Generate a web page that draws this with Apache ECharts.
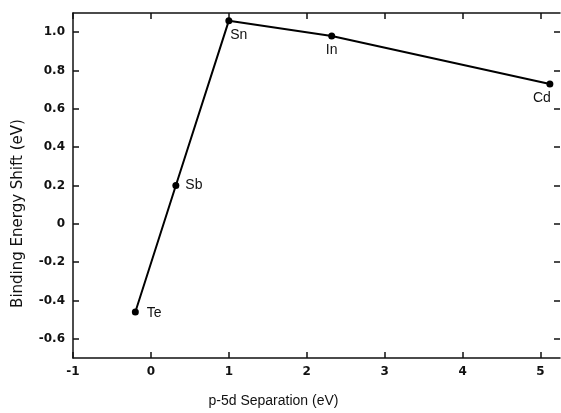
<!DOCTYPE html>
<html>
<head>
<meta charset="utf-8">
<script src="https://cdn.jsdelivr.net/npm/echarts@6/dist/echarts.min.js"></script>
<style>
  html, body { margin: 0; padding: 0; background: #fff; }
  #main { width: 561px; height: 413px; }
</style>
</head>
<body>
<div id="main"></div>
<script>
// data
const elements = ['Te', 'Sb', 'Sn', 'In', 'Cd'];
const separation = [-0.2, 0.32, 1.0, 2.32, 5.12];   // p-5d separation (eV)
const shift = [-0.46, 0.20, 1.06, 0.98, 0.73];      // binding energy shift (eV)
const xTicks = [-1, 0, 1, 2, 3, 4, 5];
const yTicks = [-0.6, -0.4, -0.2, 0, 0.2, 0.4, 0.6, 0.8, 1.0];

const labelPos = { Te: 'right', Sb: 'right', Sn: 'bottom', In: 'bottom', Cd: 'bottom' };
const labelOffset = { Te: [2, 1], Sb: [0, 0], Sn: [10, -2], In: [0, -2], Cd: [-8, -2] };

const font = 'Liberation Sans, Arial, sans-serif';
const tickLabel = { fontFamily: 'DejaVu Sans', fontSize: 12, fontWeight: 'bold', color: '#111' };

const pts = elements.map((e, i) => ({
  value: [separation[i], shift[i]],
  label: { position: labelPos[e], offset: labelOffset[e], formatter: e }
}));

const myChart = echarts.init(document.getElementById('main'));

const axisLine = { show: true, onZero: false, lineStyle: { color: '#111', width: 1.5 } };
const tickStyle = (vals) => ({ show: true, inside: true, length: 6, customValues: vals, lineStyle: { color: '#111', width: 1.5 } });

const option = {
  animation: false,
  backgroundColor: '#fff',
  grid: { left: 73, right: 1, top: 13, bottom: 51 },
  xAxis: [
    {
      type: 'value', min: -1, max: 5.25,
      name: 'p-5d Separation (eV)', nameLocation: 'middle', nameGap: 36,
      nameTextStyle: { fontFamily: font, fontSize: 14, color: '#111', padding: [0, 86, 0, 0] },
      axisLine: axisLine, splitLine: { show: false },
      axisTick: tickStyle(xTicks),
      axisLabel: Object.assign({ customValues: xTicks, margin: 8 }, tickLabel)
    },
    {
      type: 'value', min: -1, max: 5.25, position: 'top',
      axisLine: axisLine, splitLine: { show: false },
      axisTick: tickStyle(xTicks), axisLabel: { show: false }
    }
  ],
  yAxis: [
    {
      type: 'value', min: -0.7, max: 1.1,
      name: 'Binding Energy Shift (eV)', nameLocation: 'middle', nameGap: 47,
      nameTextStyle: { fontFamily: 'DejaVu Sans', fontSize: 15, color: '#111', padding: [0, 56, 0, 0] },
      axisLine: axisLine, splitLine: { show: false },
      axisTick: tickStyle(yTicks),
      axisLabel: Object.assign({
        customValues: yTicks, margin: 8,
        formatter: v => (Math.abs(v) < 1e-9 ? '0' : v.toFixed(1))
      }, tickLabel)
    },
    {
      type: 'value', min: -0.7, max: 1.1, position: 'right',
      axisLine: { show: false, onZero: false }, splitLine: { show: false },
      axisTick: tickStyle(yTicks), axisLabel: { show: false }
    }
  ],
  series: [
    {
      type: 'line',
      data: pts,
      symbol: 'circle', symbolSize: 7,
      itemStyle: { color: '#000' },
      lineStyle: { color: '#000', width: 2 },
      label: { show: true, fontFamily: font, fontSize: 14, color: '#111', distance: 6 }
    }
  ]
};

myChart.setOption(option);
</script>
</body>
</html>
